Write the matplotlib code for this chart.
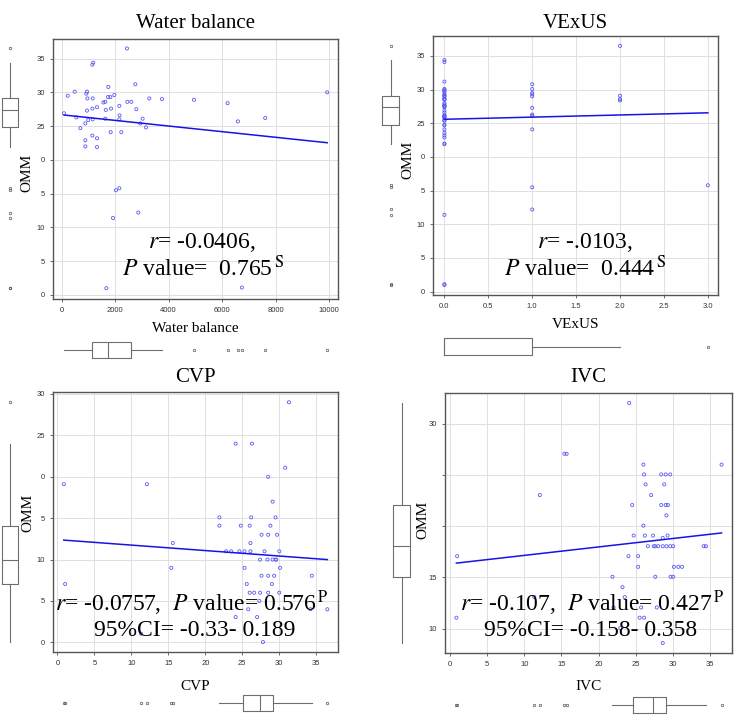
import matplotlib
matplotlib.use("Agg")
import matplotlib.pyplot as plt
import numpy as np

plt.rcParams["font.family"] = ["Liberation Serif", "DejaVu Serif"]
plt.rcParams["mathtext.fontset"] = "stix"

# ---- data ----
# Water balance vs OMM
wb_x = [87, 224, 486, 548, 697, 884, 884, 884, 921, 946, 946, 960, 990, 1146, 1180,
        1146, 1146, 1160, 1160, 1320, 1320, 1320, 1557, 1630, 1630, 1650, 1743, 1730,
        1820, 1843, 1830, 1968, 2154, 2165, 2154, 2229, 2030, 2154, 1918, 1669, 2441,
        2455, 2603, 2752, 2790, 2864, 2939, 3026, 3151, 3275, 3748, 4944, 6202, 6588,
        6737, 7609, 9925]
wb_omm = [26.9, 29.5, 30.1, 26.3, 24.7, 25.4, 22.9, 22.0, 29.8, 30.1, 27.3, 29.1, 25.9,
          34.1, 34.4, 27.6, 23.6, 29.1, 26.0, 27.8, 23.2, 21.9, 28.5, 28.6, 26.1, 27.4,
          30.8, 29.3, 29.3, 27.6, 24.1, 29.6, 28.0, 26.6, 26.0, 24.1, 15.5, 15.8, 11.4,
          1.0, 36.5, 28.6, 28.6, 31.2, 27.5, 12.2, 25.4, 26.1, 24.8, 29.1, 29.0, 28.9,
          28.4, 25.7, 1.1, 26.2, 30.0]
wb_fit = (26.68, -0.000417)

# VExUS vs OMM, OMM grouped by VExUS grade
vexus_levels = [0, 1, 2, 3]
omm_v0 = [1.0, 1.1, 11.4, 21.9, 22.0, 22.9, 23.2, 23.6, 24.1, 24.7, 24.8, 25.4, 25.4,
          25.7, 25.9, 26.0, 26.0, 26.1, 26.2, 26.6, 26.9, 27.4, 27.5, 27.6, 27.6, 27.8,
          28.0, 28.5, 28.6, 28.6, 28.9, 29.1, 29.1, 29.3, 29.6, 29.8, 30.0, 30.1, 31.2,
          34.1, 34.4]
omm_v1 = [30.8, 30.1, 29.5, 29.3, 29.0, 27.3, 26.3, 26.1, 24.1, 15.5, 12.2]
omm_v2 = [36.5, 29.1, 28.6, 28.4]
omm_v3 = [15.8]
vexus_fit = (25.6, 0.32)

# CVP panel
cvp_x = [0.86, 1.04, 12.1, 15.6, 15.4, 11.3, 21.9, 21.9, 22.8, 23.5, 24.1, 24.1, 24.8,
         24.6, 25.3, 25.3, 25.6, 25.8, 26.0, 26.1, 26.1, 26.2, 26.3, 26.0, 26.6, 27.0,
         27.4, 27.4, 27.3, 27.6, 27.6, 27.8, 28.0, 28.4, 28.5, 28.5, 28.5, 28.5, 28.8,
         29.0, 29.1, 29.1, 29.3, 29.5, 29.5, 29.6, 29.7, 30.0, 30.1, 30.0, 30.8, 31.3,
         34.4, 34.2, 36.5]
cvp_y = [19.1, 7.05, 19.1, 12.0, 9.0, 1.05, 15.1, 14.1, 11.0, 11.0, 24.0, 3.06, 14.1,
         11.0, 11.0, 9.0, 7.05, 4.0, 14.1, 12.0, 11.0, 15.1, 24.0, 6.0, 6.0, 3.06, 10.0,
         6.0, 5.0, 13.0, 8.05, 0.04, 11.0, 10.0, 20.0, 13.0, 8.05, 6.0, 14.1, 7.05, 17.0,
         10.0, 8.05, 10.0, 15.1, 10.0, 13.0, 11.0, 9.0, 6.0, 21.1, 29.0, 8.05, 4.0, 4.0]
cvp_fit = (12.41, -0.066)

# IVC panel
ivc_x = [24.1, 15.4, 15.7, 26.0, 36.5, 26.1, 28.4, 29.0, 29.6, 26.3, 28.8, 12.1, 27.05,
         24.5, 28.4, 29.0, 29.3, 29.1, 26.0, 24.7, 26.2, 27.3, 29.25, 28.6, 26.6, 27.4,
         27.6, 28.0, 28.6, 29.1, 29.6, 30.0, 34.1, 34.4, 1.0, 24.0, 25.3, 25.3, 30.1,
         30.7, 31.2, 21.85, 27.6, 29.65, 30.0, 23.2, 23.5, 22.0, 25.7, 27.8, 25.5, 26.1,
         0.9, 22.9, 28.6, 11.35]
ivc_y = [32.0, 27.05, 27.05, 26.0, 26.0, 25.04, 25.04, 25.04, 25.04, 24.07, 24.07, 23.03,
         23.03, 22.06, 22.06, 22.06, 22.06, 21.05, 20.05, 19.08, 19.08, 19.08, 19.08,
         18.85, 18.04, 18.04, 18.04, 18.04, 18.04, 18.04, 18.04, 18.04, 18.04, 18.04,
         17.07, 17.07, 17.07, 16.03, 16.03, 16.03, 16.03, 15.06, 15.06, 15.06, 15.06,
         14.05, 13.08, 12.07, 12.07, 12.07, 11.07, 11.07, 11.07, 10.06, 8.6, 13.1]
ivc_fit = (16.32, 0.0826)

W, H = 750, 715
BLUE = "#5a5af2"
GREY = "#6e6e6e"


def rect(l, t, r, b):
    return [l / W, 1 - b / H, (r - l) / W, (b - t) / H]


def ftext(x, y, s, **kw):
    fig.text(x / W, 1 - y / H, s, ha="center", va="center", **kw)


box_style = dict(
    showcaps=False,
    boxprops=dict(color=GREY, lw=0.8),
    whiskerprops=dict(color=GREY, lw=0.8),
    medianprops=dict(color=GREY, lw=0.8),
    flierprops=dict(marker="o", ms=1.8, mfc="none", mec="#555555", mew=0.5),
)

panels = [
    dict(x=np.array(wb_x), y=np.array(wb_omm), fit=wb_fit, title="Water balance",
         frame=(53, 39, 338, 299), xlim=(-325, 10330), ylim=(-0.6, 37.9),
         xticks=[0, 2000, 4000, 6000, 8000, 10000],
         yticks=[0, 5, 10, 15, 20, 25, 30, 35],
         ylabels=["0", "5", "10", "5", "0", "25", "30", "35"],
         title_y=24, xlab_y=328, omm_x=27, omm_y=173,
         vbox=(2, 18), hbox=(342, 358),
         txt=[(202, 243, r"$\mathit{r}$= -0.0406,"),
              (203, 268, r"$\mathit{P}$ value=  0.765$^{\,\mathrm{S}}$")]),
    dict(x=np.concatenate([np.full(len(g), lv) for lv, g in
                           zip(vexus_levels, [omm_v0, omm_v1, omm_v2, omm_v3])]),
         y=np.array(omm_v0 + omm_v1 + omm_v2 + omm_v3), fit=vexus_fit, title="VExUS",
         frame=(433, 36, 718, 295), xlim=(-0.13, 3.116), ylim=(-0.5, 37.97),
         xticks=[0.0, 0.5, 1.0, 1.5, 2.0, 2.5, 3.0],
         yticks=[0, 5, 10, 15, 20, 25, 30, 35],
         ylabels=["0", "5", "10", "5", "0", "25", "30", "35"],
         title_y=23, xlab_y=324, omm_x=408, omm_y=160,
         vbox=(382, 399), hbox=(338, 355),
         txt=[(585, 243, r"$\mathit{r}$= -.0103,"),
              (585, 268, r"$\mathit{P}$ value=  0.444$^{\,\mathrm{S}}$")]),
    dict(x=np.array(cvp_x), y=np.array(cvp_y), fit=cvp_fit, title="CVP",
         frame=(53, 392, 338, 652), xlim=(-0.6, 37.94), ylim=(-1.16, 30.24),
         xticks=[0, 5, 10, 15, 20, 25, 30, 35],
         yticks=[0, 5, 10, 15, 20, 25, 30],
         ylabels=["0", "5", "10", "5", "0", "25", "30"],
         title_y=378, xlab_y=686, omm_x=28, omm_y=513,
         vbox=(2, 18), hbox=(695, 711),
         txt=[(192, 603, r"$\mathit{r}$= -0.0757,  $\mathit{P}$ value= 0.576$^{\,\mathrm{P}}$"),
              (195, 631, "95%CI= -0.33- 0.189")]),
    dict(x=np.array(ivc_x), y=np.array(ivc_y), fit=ivc_fit, title="IVC",
         frame=(445, 393, 732, 653), xlim=(-0.63, 37.9), ylim=(7.63, 32.98),
         xticks=[0, 5, 10, 15, 20, 25, 30, 35],
         yticks=[10, 15, 20, 25, 30],
         ylabels=["10", "15", "", "", "30"],
         title_y=378, xlab_y=686, omm_x=423, omm_y=520,
         vbox=(393, 410), hbox=(697, 713),
         txt=[(592, 603, r"$\mathit{r}$= -0.107,  $\mathit{P}$ value= 0.427$^{\,\mathrm{P}}$"),
              (591, 631, "95%CI= -0.158- 0.358")]),
]

fig = plt.figure(figsize=(7.5, 7.15), dpi=100)

for p in panels:
    l, t, r, b = p["frame"]
    ax = fig.add_axes(rect(l, t, r, b))
    ax.scatter(p["x"], p["y"], s=5, facecolors="none", edgecolors=BLUE,
               linewidths=0.6, zorder=3)
    xs = np.array([p["x"].min(), p["x"].max()])
    ax.plot(xs, p["fit"][0] + p["fit"][1] * xs, color="#1414e6", lw=1.1, zorder=4)
    ax.set_xlim(*p["xlim"])
    ax.set_ylim(*p["ylim"])
    ax.set_xticks(p["xticks"])
    ax.set_yticks(p["yticks"])
    ax.set_yticklabels(p["ylabels"])
    for lab in ax.get_xticklabels() + ax.get_yticklabels():
        lab.set_fontfamily("Liberation Sans")
    ax.tick_params(labelsize=5.5, labelcolor="#333333", color="#555555",
                   length=2.5, width=0.6)
    ax.grid(True, color="#e0e0e0", lw=0.7)
    ax.set_axisbelow(True)
    for sp in ax.spines.values():
        sp.set_color("#555555")
        sp.set_linewidth(1.0)

    ftext((l + r) / 2, p["title_y"], p["title"], fontsize=15)
    ftext((l + r) / 2, p["xlab_y"], p["title"], fontsize=11)
    ftext(p["omm_x"], p["omm_y"], "OMM", fontsize=11, rotation=90)
    for tx, ty, s in p["txt"]:
        ftext(tx, ty, s, fontsize=17, zorder=5)

    # marginal box plot of OMM on the left
    v0, v1 = p["vbox"]
    axv = fig.add_axes(rect(v0 - 2, t, v1 + 2, b))
    axv.boxplot(p["y"], positions=[0], widths=(v1 - v0) / ((v1 - v0 + 4) / 2),
                **box_style)
    axv.set_xlim(-1, 1)
    axv.set_ylim(*p["ylim"])
    axv.axis("off")

    # marginal box plot of x below
    h0, h1 = p["hbox"]
    axh = fig.add_axes(rect(l, h0 - 2, r, h1 + 2))
    axh.boxplot(p["x"], positions=[0], vert=False,
                widths=(h1 - h0) / ((h1 - h0 + 4) / 2), **box_style)
    axh.set_ylim(-1, 1)
    axh.set_xlim(*p["xlim"])
    axh.axis("off")

fig.savefig("out.png", dpi=100)
